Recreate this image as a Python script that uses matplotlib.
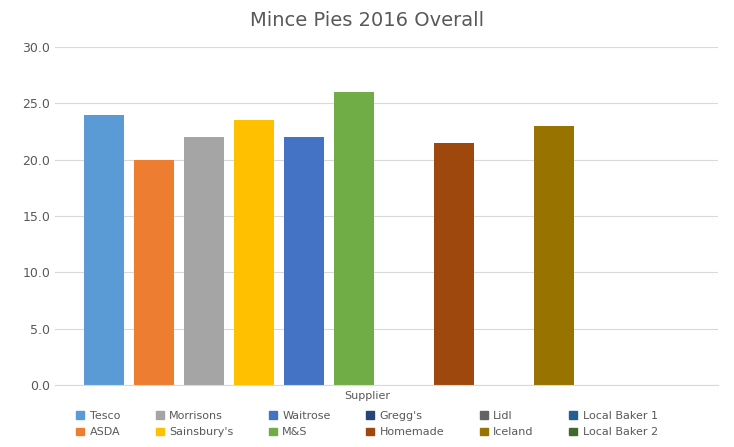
import matplotlib
matplotlib.use("Agg")
import matplotlib.pyplot as plt
from matplotlib.patches import Patch

suppliers = ["Tesco","ASDA","Morrisons","Sainsbury's","Waitrose","M&S","Gregg's","Homemade","Lidl","Iceland","Local Baker 1","Local Baker 2"]
values = [24.0,20.0,22.0,23.5,22.0,26.0,0,21.5,0,23.0,0,0]
colors = ["#5B9BD5","#ED7D31","#A5A5A5","#FFC000","#4472C4","#70AD47","#264478","#9E480E","#636363","#997300","#255E91","#43682B"]
yticks = [0,5,10,15,20,25,30]

fig = plt.figure(figsize=(7.34,4.47), dpi=100)
ax = fig.add_axes([55/734, 1-385/447, (718-55)/734, (385-47)/447])
for i,(v,c) in enumerate(zip(values,colors)):
    ax.bar(i, v, width=0.8, color=c)
ax.set_xlim(-0.98, 12.28)
ax.set_ylim(0,30)
ax.set_yticks(yticks)
ax.set_yticklabels([f"{t:.1f}" for t in yticks], fontsize=9, color="#595959")
ax.set_xticks([])
ax.grid(axis="y", color="#D9D9D9", lw=0.8)
ax.set_axisbelow(True)
for s in ["top","right","left"]:
    ax.spines[s].set_visible(False)
ax.spines["bottom"].set_color("#D9D9D9")
ax.tick_params(axis="y", length=0)
fig.text(0.5, 1-20/447, "Mince Pies 2016 Overall", ha="center", va="center", fontsize=14, color="#595959")
fig.text(0.5, 1-396/447, "Supplier", ha="center", va="center", fontsize=8, color="#595959")
handles = [Patch(color=c, label=s) for s,c in zip(suppliers,colors)]
leg = fig.legend(handles=handles, ncol=6, loc="center", bbox_to_anchor=(0.5, 1-424/447), frameon=False,
                 fontsize=8, handlelength=0.7, handleheight=0.7, columnspacing=3.2, handletextpad=0.5, labelspacing=0.6)
for t in leg.get_texts():
    t.set_color("#595959")
fig.savefig("out.png", dpi=100)
